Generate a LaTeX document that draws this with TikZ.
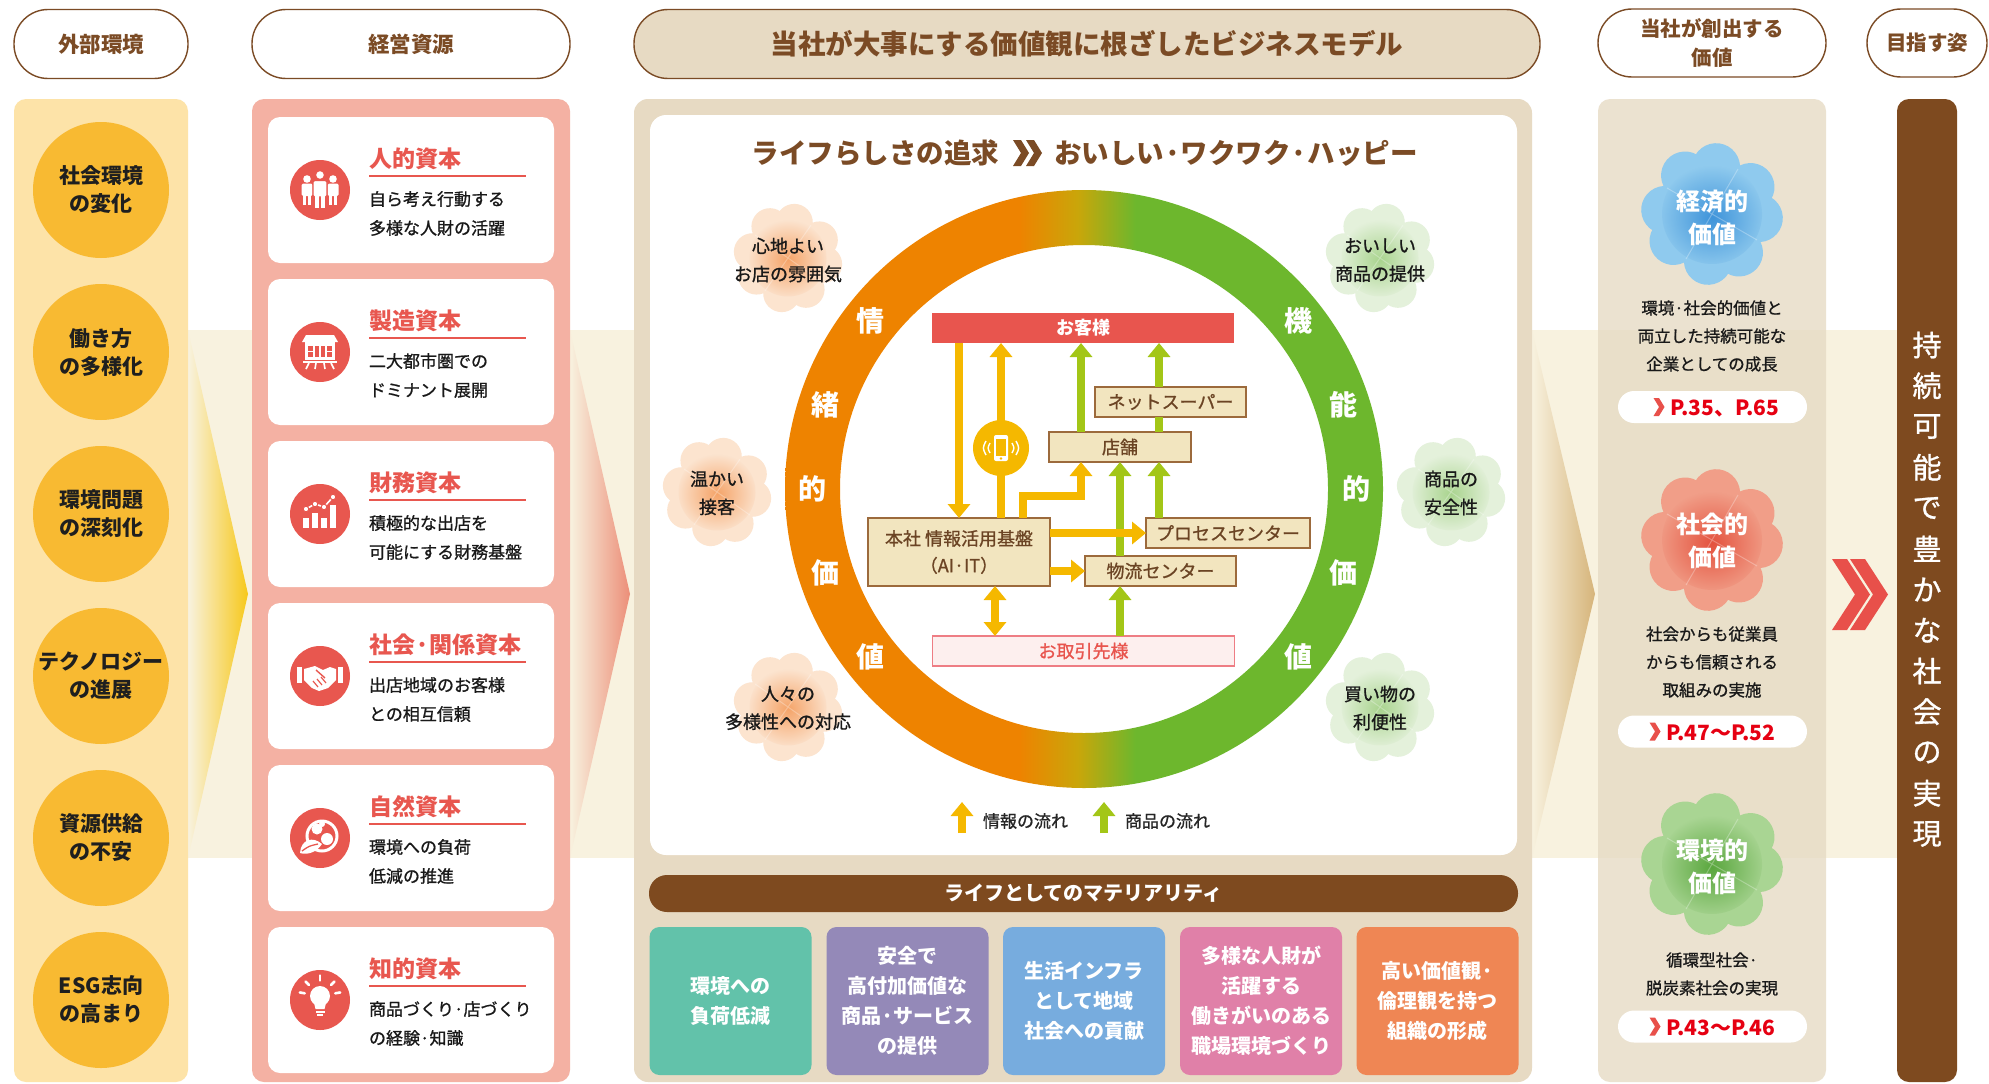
\documentclass[tikz,border=0pt]{standalone}
\usepackage{fontspec}
\setmainfont{Noto Sans CJK JP}
\newfontfamily\medfont{Noto Sans CJK JP}[FakeBold=1]
\usetikzlibrary{arrows.meta,calc,fadings}

\definecolor{hdrbrown}{HTML}{7B4B25}
\definecolor{bandcream}{HTML}{F8F2DF}
\definecolor{envpanel}{HTML}{FDE3A8}
\definecolor{envorange}{HTML}{F8BA32}
\definecolor{cappanel}{HTML}{F4B1A3}
\definecolor{capred}{HTML}{E8574F}
\definecolor{tanpanel}{HTML}{E7DAC3}
\definecolor{valpanel}{HTML}{E6DAC3}
\definecolor{barbrown}{HTML}{7E4A1F}
\definecolor{ringor}{HTML}{EE8300}
\definecolor{ringmid}{HTML}{C9A60A}
\definecolor{ringgr}{HTML}{6DB72D}
\definecolor{infoy}{HTML}{F5B800}
\definecolor{goodg}{HTML}{A3C617}
\definecolor{fboxfill}{HTML}{F2E5BF}
\definecolor{fboxline}{HTML}{9C6A3C}
\definecolor{fboxtext}{HTML}{6B4424}
\definecolor{custred}{HTML}{E8554E}
\definecolor{suppfill}{HTML}{FDEFEE}
\definecolor{suppline}{HTML}{EE7D84}
\definecolor{chevyellow}{HTML}{F7C81A}
\definecolor{chevpink}{HTML}{EC8E78}
\definecolor{chevtan}{HTML}{D6B47A}
\definecolor{refred}{HTML}{E60012}
\definecolor{chevred}{HTML}{E8504A}
\definecolor{mteal}{HTML}{62C2AA}
\definecolor{mpurple}{HTML}{9489B8}
\definecolor{mblue}{HTML}{77ACDE}
\definecolor{mpink}{HTML}{E080A8}
\definecolor{morange}{HTML}{EF8654}
\definecolor{cloL}{HTML}{FCE4CF}
\definecolor{cloLd}{HTML}{F5A469}
\definecolor{cloR}{HTML}{E4F1DB}
\definecolor{cloRd}{HTML}{A9D48E}
\definecolor{econ}{HTML}{8FCAEE}
\definecolor{econd}{HTML}{3F94DA}
\definecolor{soc}{HTML}{F19E88}
\definecolor{socd}{HTML}{E4533F}
\definecolor{envv}{HTML}{A9D593}
\definecolor{envd}{HTML}{5AA73E}

\pgfdeclarehorizontalshading{ringshade}{100bp}{color(0bp)=(ringor); color(44.6bp)=(ringor); color(49.5bp)=(ringmid); color(54.3bp)=(ringgr); color(100bp)=(ringgr)}
\tikzfading[name=softcentre, inner color=transparent!0, outer color=transparent!100]

\tikzset{
  pics/clover/.style n args={3}{code={
    \begin{scope}[rotate=#3]
      \foreach \a in {0,90,180,270}{
        \fill[#1] (\a+20:47) circle (24);
        \fill[#1] (\a-20:47) circle (24);
      }
      \fill[#1] (0,0) circle (38);
      \fill[#2, path fading=softcentre] (0,0) circle (50);
      \draw[white, opacity=.28, line width=1pt] (45:52) -- (225:52) (135:52) -- (315:52);
    \end{scope}
  }},
  pics/smallchev/.style={code={
    \fill[chevred] (-5.5,-9) -- (0,-9) -- (5.5,0) -- (0,9) -- (-5.5,9) -- (0,0) -- cycle;
  }},
  pics/bigchev/.style={code={
    \fill[chevred] (0,-35.5) -- (15,-35.5) -- (38,0) -- (15,35.5) -- (0,35.5) -- (23,0) -- cycle;
  }},
  pics/titlechev/.style={code={
    \fill[hdrbrown] (0,-13) -- (8,-13) -- (16,0) -- (8,13) -- (0,13) -- (8,0) -- cycle;
  }}
}

\begin{document}
\begin{tikzpicture}[x=1pt,y=-1pt,
  every node/.style={inner sep=0pt, outer sep=0pt},
  hdr/.style={draw=hdrbrown, line width=1.4pt, fill=white, rounded corners=34pt,
    minimum height=69pt, text=hdrbrown, align=center, font=\fontsize{21.5}{29}\selectfont\bfseries},
  envc/.style={circle, fill=envorange, minimum size=136pt, align=center,
    font=\fontsize{21}{28}\selectfont\bfseries, text=black!88},
  card/.style={fill=white, rounded corners=12pt, minimum width=286pt, minimum height=146pt},
  capico/.style={circle, fill=capred, minimum size=60pt},
  captitle/.style={anchor=west, text=capred, font=\fontsize{23}{26}\selectfont\bfseries},
  capdesc/.style={anchor=west, align=left, text=black!90, font=\fontsize{17}{29}\selectfont\medfont},
  ringlbl/.style={text=white, font=\fontsize{28}{28}\selectfont\bfseries},
  clotxt/.style={align=center, text=black!90, font=\fontsize{18}{28}\selectfont\medfont},
  fbox/.style={draw=fboxline, fill=fboxfill, line width=1.5pt, text=fboxtext,
    align=center, font=\fontsize{18}{27}\selectfont\medfont},
  infoarr/.style={draw=infoy, line width=8pt, -{Triangle[width=22pt,length=14pt]}},
  infodbl/.style={draw=infoy, line width=8pt, {Triangle[width=22pt,length=14pt]}-{Triangle[width=22pt,length=14pt]}},
  goodarr/.style={draw=goodg, line width=8pt, -{Triangle[width=22pt,length=14pt]}},
  goodline/.style={draw=goodg, line width=8pt},
  lgtxt/.style={anchor=west, text=black!85, font=\fontsize{17}{17}\selectfont\medfont},
  matbox/.style={rounded corners=10pt, minimum width=162pt, minimum height=148pt,
    text=white, align=center, font=\fontsize{20}{30}\selectfont\bfseries},
  clolbl/.style={text=white, align=center, font=\fontsize{24}{33}\selectfont\bfseries},
  valtxt/.style={align=center, text=black!90, font=\fontsize{16.5}{28}\selectfont\medfont},
  refpill/.style={fill=white, rounded corners=16pt, minimum width=189pt, minimum height=32pt},
  reftxt/.style={anchor=west, text=refred, font=\fontsize{21}{21}\selectfont\bfseries},
  vtxt/.style={text=white, font=\fontsize{29}{29}\selectfont\medfont}
]
\useasboundingbox (0,0) rectangle (1989,1084);
\fill[white] (0,0) rectangle (1989,1084);

% ---------- background band and flow chevrons ----------
\fill[bandcream] (14,330) rectangle (1897,858);
\shade[left color=bandcream, right color=chevyellow] (188,330) -- (248,594) -- (188,858) -- cycle;
\shade[left color=bandcream, right color=chevpink] (570,330) -- (630,594) -- (570,858) -- cycle;
\shade[left color=bandcream, right color=chevtan] (1532,330) -- (1595,594) -- (1532,858) -- cycle;

% ---------- column panels ----------
\fill[envpanel, rounded corners=12pt] (14,99) rectangle (188,1082);
\fill[cappanel, rounded corners=12pt] (252,99) rectangle (570,1082);
\fill[tanpanel, rounded corners=14pt] (634,99) rectangle (1532,1082);
\fill[valpanel, opacity=.78, rounded corners=12pt] (1598,99) rectangle (1826,1082);
\fill[barbrown, rounded corners=12pt] (1897,99) rectangle (1957,1082);

% ---------- headers ----------
\node[hdr, minimum width=174pt] (h1) at (101,44) {外部環境};
\node[hdr, minimum width=318pt] (h2) at (411,44) {経営資源};
\node[hdr, minimum width=906pt, fill=tanpanel, font=\fontsize{27.5}{30}\selectfont\bfseries] (h3) at (1087,44) {当社が大事にする価値観に根ざしたビジネスモデル};
\node[hdr, minimum width=228pt, minimum height=68pt, font=\fontsize{20.5}{29}\selectfont\bfseries] (h4) at (1712,43) {当社が創出する\\価値};
\node[hdr, minimum width=120pt, minimum height=68pt, font=\fontsize{20.5}{29}\selectfont\bfseries] (h5) at (1927,43) {目指す姿};

% ---------- external environment ----------
\node[envc] (e0) at (101,190) {社会環境\\の変化};
\node[envc] (e1) at (101,352) {働き方\\の多様化};
\node[envc] (e2) at (101,514) {環境問題\\の深刻化};
\node[envc] (e3) at (101,676) {テクノロジー\\の進展};
\node[envc] (e4) at (101,838) {資源供給\\の不安};
\node[envc] (e5) at (101,1000) {ESG志向\\の高まり};

% ---------- management resources ----------
\foreach \k/\ttl/\dsc in {
  0/人的資本/{自ら考え行動する\\多様な人財の活躍},
  1/製造資本/{二大都市圏での\\ドミナント展開},
  2/財務資本/{積極的な出店を\\可能にする財務基盤},
  3/社会·関係資本/{出店地域のお客様\\との相互信頼},
  4/自然資本/{環境への負荷\\低減の推進},
  5/知的資本/{商品づくり·店づくり\\の経験·知識}}{
  \pgfmathsetmacro\T{117+162*\k}
  \node[card] (card\k) at (411,\T+73) {};
  \node[capico] (ico\k) at (320,\T+73) {};
  \node[captitle] (ttl\k) at (369,\T+42) {\ttl};
  \draw[capred, line width=1.2pt] (369,\T+59) -- (526,\T+59);
  \node[capdesc] (dsc\k) at (369,\T+96.5) {\dsc};
}

% icon: people
\begin{scope}[shift={(ico0.center)}]
  \foreach \s in {-13,13}{
    \fill[white] (\s,-11) circle (3.8);
    \fill[white, rounded corners=1.5pt] (\s-5.5,-6.5) rectangle (\s+5.5,6);
    \fill[white] (\s-4,5) rectangle (\s-0.7,15);
    \fill[white] (\s+0.7,5) rectangle (\s+4,15);
  }
  \fill[white, draw=capred, line width=1.3pt] (0,-15) circle (4.6);
  \fill[white, draw=capred, line width=1.3pt, rounded corners=1.5pt] (-7,-9.5) rectangle (7,7);
  \fill[white] (-4.6,6) rectangle (-0.8,18);
  \fill[white] (0.8,6) rectangle (4.6,18);
\end{scope}
% icon: store
\begin{scope}[shift={(ico1.center)}]
  \fill[white] (-18,-10) -- (-14,-17) -- (14,-17) -- (18,-10) -- cycle;
  \fill[white] (-15,-10) rectangle (15,8);
  \fill[capred] (-12,-6) rectangle (12,5);
  \foreach \xx in {-6,0,6} \fill[white] (\xx-0.7,-6) rectangle (\xx+0.7,5);
  \fill[white] (-12,-1) rectangle (-6.7,0.2);
  \fill[white] (6.7,-1) rectangle (12,0.2);
  \draw[white, line width=1.6pt] (-17,10) -- (17,10);
  \draw[white, line width=1.6pt] (-11,11) -- (-14,17) (-4,11) -- (-5,17) (4,11) -- (5,17) (11,11) -- (14,17);
\end{scope}
% icon: chart
\begin{scope}[shift={(ico2.center)}]
  \fill[white] (-17,4) rectangle (-11,14);
  \fill[white] (-8,-1) rectangle (-2,14);
  \fill[white] (1,4) rectangle (7,14);
  \fill[white] (10,-9) rectangle (16,14);
  \draw[white, line width=1.6pt] (-14,-5) -- (-5,-10) -- (4,-7) -- (13,-17);
  \foreach \p in {(-14,-5),(-5,-10),(4,-7),(13,-17)}
    \fill[white, draw=capred, line width=1pt] \p circle (2.8);
\end{scope}
% icon: handshake
\begin{scope}[shift={(ico3.center)}]
  \fill[white] (-23,-9) rectangle (-18,7);
  \fill[white] (18,-9) rectangle (23,7);
  \fill[white] (-16,-7) -- (-5,-10) -- (3,-6) -- (10,-9) -- (16,-7) -- (16,4) -- (8,12) -- (-1,15) -- (-8,12) -- (-16,4) -- cycle;
  \draw[capred, line width=1.4pt] (-4,-6) -- (5,2);
  \draw[capred, line width=1.2pt] (-7,5) -- (-2,11) (-3,3) -- (2,9) (1,1) -- (6,7);
\end{scope}
% icon: globe and leaf
\begin{scope}[shift={(ico4.center)}]
  \draw[white, line width=3pt] (2,-2) circle (15);
  \fill[white] (-3,-9) circle (5.5);
  \fill[white] (7,1) circle (6);
  \fill[white] (2,-14) circle (3);
  \fill[white] (-20,15) .. controls (-19,1) and (-7,-2) .. (2,6) .. controls (-4,15) and (-13,17) .. (-20,15) -- cycle;
  \draw[capred, line width=1.3pt] (-18,13) .. controls (-11,8) .. (-2,6);
\end{scope}
% icon: light bulb
\begin{scope}[shift={(ico5.center)}]
  \fill[white] (0,-4) circle (10);
  \fill[white] (-6.5,1) -- (6.5,1) -- (4.5,9) -- (-4.5,9) -- cycle;
  \fill[white] (-4.5,10.5) rectangle (4.5,12.5);
  \fill[white] (-3,13.8) rectangle (3,16);
  \foreach \a in {-170,-135,-90,-45,-10}
    \draw[white, line width=2.6pt, line cap=round] ($(0,-4)+(\a:15.5)$) -- ($(0,-4)+(\a:20.5)$);
\end{scope}

% ---------- business model ----------
\fill[white, rounded corners=16pt] (650,115) rectangle (1517,855);

\node[anchor=east, text=hdrbrown, font=\fontsize{27.5}{27}\selectfont\bfseries] (tl1) at (999,153) {ライフらしさの追求};
\pic (tch1) at (1013,153) {titlechev};
\pic (tch2) at (1026,153) {titlechev};
\node[anchor=west, text=hdrbrown, font=\fontsize{27.5}{27}\selectfont\bfseries] (tl2) at (1054,153) {おいしい·ワクワク·ハッピー};

% value ring
\coordinate (ringc) at (1084,489);
\shade[shading=ringshade, even odd rule] (ringc) circle (299) (ringc) circle (244);
\foreach \ch/\px/\py [count=\i] in {情/870/321, 緒/825/405, 的/812/489, 価/825/573, 値/870/657}
  \node[ringlbl] (rl\i) at (\px,\py) {\ch};
\foreach \ch/\px/\py [count=\i] in {機/1298/321, 能/1343/405, 的/1356/489, 価/1343/573, 値/1298/657}
  \node[ringlbl] (rr\i) at (\px,\py) {\ch};

% value clovers round the ring
\pic[scale=0.77] (cl1) at (788,258) {clover={cloL}{cloLd}{10}};
\pic[scale=0.77] (cl2) at (717,492) {clover={cloL}{cloLd}{10}};
\pic[scale=0.77] (cl3) at (788,707) {clover={cloL}{cloLd}{10}};
\pic[scale=0.77] (cr1) at (1380,258) {clover={cloR}{cloRd}{10}};
\pic[scale=0.77] (cr2) at (1451,492) {clover={cloR}{cloRd}{10}};
\pic[scale=0.77] (cr3) at (1380,707) {clover={cloR}{cloRd}{10}};
\node[clotxt] (ct1) at (788,260) {心地よい\\お店の雰囲気};
\node[clotxt] (ct2) at (717,493) {温かい\\接客};
\node[clotxt] (ct3) at (788,708) {人々の\\多様性への対応};
\node[clotxt] (ct4) at (1380,260) {おいしい\\商品の提供};
\node[clotxt] (ct5) at (1451,493) {商品の\\安全性};
\node[clotxt] (ct6) at (1380,708) {買い物の\\利便性};

% flow boxes
\node[fill=custred, text=white, minimum width=302pt, minimum height=30pt, font=\fontsize{18}{18}\selectfont\bfseries] (okyaku) at (1083,328) {お客様};
\node[fbox, minimum width=151pt, minimum height=30pt] (net) at (1170.5,402) {ネットスーパー};
\node[fbox, minimum width=142pt, minimum height=30pt] (tenpo) at (1120,447) {店舗};
\node[fbox, minimum width=182pt, minimum height=68pt] (honsha) at (959,552) {本社 情報活用基盤\\（AI·IT）};
\node[fbox, minimum width=164pt, minimum height=30pt] (process) at (1228,533) {プロセスセンター};
\node[fbox, minimum width=151pt, minimum height=30pt] (butsuryu) at (1160.5,571) {物流センター};
\node[draw=suppline, fill=suppfill, line width=1.5pt, text=custred, minimum width=302pt, minimum height=30pt, font=\fontsize{18}{18}\selectfont\medfont] (torihiki) at (1083.5,651) {お取引先様};

% flow arrows
\coordinate (xA) at (1001,0);
\coordinate (xB) at (1023,0);
\coordinate (xC) at (1081,0);
\coordinate (xD) at (1120,0);
\coordinate (xE) at (1159,0);
\coordinate (xF) at (995,0);
\coordinate (elb) at (0,496);
\draw[infoarr] (honsha.north |- okyaku.south) -- (honsha.north);
\draw[infoarr] (xA |- honsha.north) -- (xA |- okyaku.south);
\draw[infoarr] (xB |- honsha.north) -- (xB |- elb) -- (xC |- elb) -- (xC |- tenpo.south);
\draw[goodarr] (xC |- tenpo.north) -- (xC |- okyaku.south);
\draw[goodline] (xE |- tenpo.north) -- (xE |- net.south);
\draw[goodarr] (xE |- net.north) -- (xE |- okyaku.south);
\draw[goodarr] (xE |- process.north) -- (xE |- tenpo.south);
\draw[goodarr] (xD |- butsuryu.north) -- (xD |- tenpo.south);
\draw[goodarr] (xD |- torihiki.north) -- (xD |- butsuryu.south);
\draw[infoarr] (honsha.east |- process.west) -- (process.west);
\draw[infoarr] (honsha.east |- butsuryu.west) -- (butsuryu.west);
\draw[infodbl] (xF |- honsha.south) -- (xF |- torihiki.north);

% smartphone
\node[circle, fill=infoy, minimum size=56pt] (phone) at (1001,448) {};
\begin{scope}[shift={(phone.center)}]
  \fill[white, rounded corners=2pt] (-7,-13) rectangle (7,13);
  \fill[infoy] (-5,-9) rectangle (5,8);
  \fill[infoy] (0,10.5) circle (1.3);
  \draw[white, line width=1.4pt] (-11,-5) .. controls (-13.5,0) .. (-11,5);
  \draw[white, line width=1.4pt] (-15,-7) .. controls (-18.5,0) .. (-15,7);
  \draw[white, line width=1.4pt] (11,-5) .. controls (13.5,0) .. (11,5);
  \draw[white, line width=1.4pt] (15,-7) .. controls (18.5,0) .. (15,7);
\end{scope}

% legend
\coordinate (lgA1) at (962,833);
\coordinate (lgA2) at (962,802);
\coordinate (lgB1) at (1104,833);
\coordinate (lgB2) at (1104,802);
\draw[infoarr] (lgA1) -- (lgA2);
\draw[goodarr] (lgB1) -- (lgB2);
\node[lgtxt] (lgt1) at (983,821) {情報の流れ};
\node[lgtxt] (lgt2) at (1125,821) {商品の流れ};

% materiality
\node[fill=barbrown, text=white, rounded corners=18pt, minimum width=869pt, minimum height=37pt, font=\fontsize{20}{20}\selectfont\bfseries] (mat) at (1083.5,893.5) {ライフとしてのマテリアリティ};
\node[matbox, fill=mteal] (m1) at (730.5,1001) {環境への\\負荷低減};
\node[matbox, fill=mpurple] (m2) at (907.5,1001) {安全で\\高付加価値な\\商品·サービス\\の提供};
\node[matbox, fill=mblue] (m3) at (1084,1001) {生活インフラ\\として地域\\社会への貢献};
\node[matbox, fill=mpink] (m4) at (1261,1001) {多様な人財が\\活躍する\\働きがいのある\\職場環境づくり};
\node[matbox, fill=morange] (m5) at (1437.5,1001) {高い価値観·\\倫理観を持つ\\組織の形成};

% ---------- created value ----------
\pic (v1c) at (1712,214) {clover={econ}{econd}{15}};
\pic (v2c) at (1712,540) {clover={soc}{socd}{15}};
\pic (v3c) at (1712,864) {clover={envv}{envd}{15}};
\node[clolbl] (v1l) at (1712,218) {経済的\\価値};
\node[clolbl] (v2l) at (1712,541) {社会的\\価値};
\node[clolbl] (v3l) at (1712,867) {環境的\\価値};
\node[valtxt] (v1t) at (1712,336) {環境·社会的価値と\\両立した持続可能な\\企業としての成長};
\node[valtxt] (v2t) at (1712,662) {社会からも従業員\\からも信頼される\\取組みの実施};
\node[valtxt] (v3t) at (1712,974) {循環型社会·\\脱炭素社会の実現};

\node[refpill] (r1) at (1712.5,407) {};
\node[refpill] (r2) at (1712.5,731.5) {};
\node[refpill] (r3) at (1712.5,1026.5) {};
\pic (r1c) at (1659,407) {smallchev};
\pic (r2c) at (1655,731.5) {smallchev};
\pic (r3c) at (1655,1026.5) {smallchev};
\node[reftxt] (r1t) at (1670,408) {P.35、P.65};
\node[reftxt] (r2t) at (1666,732.5) {P.47〜P.52};
\node[reftxt] (r3t) at (1666,1027.5) {P.43〜P.46};

% ---------- goal ----------
\pic (gch1) at (1832,594.5) {bigchev};
\pic (gch2) at (1850,594.5) {bigchev};
\foreach \ch [count=\i from 0] in {持,続,可,能,で,豊,か,な,社,会,の,実,現}
  \node[vtxt] (g\i) at (1927,345+40.75*\i) {\ch};
\end{tikzpicture}
\end{document}
